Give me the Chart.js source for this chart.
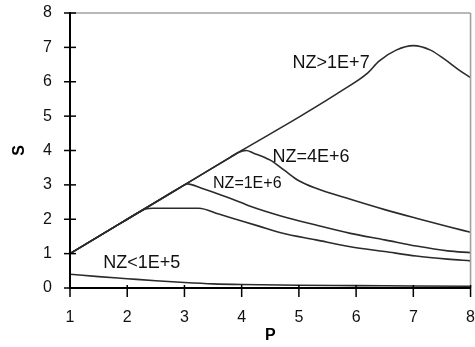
<!DOCTYPE html>
<html>
<head>
<meta charset="utf-8">
<script src="https://cdn.jsdelivr.net/npm/chart.js@4/dist/chart.umd.min.js"></script>
<style>
  html, body { margin: 0; padding: 0; background: #fff; }
</style>
</head>
<body>
<canvas id="chart" width="475" height="347"></canvas>
<script>
// axis ticks
const xTicks = [1, 2, 3, 4, 5, 6, 7, 8];
const yTicks = [0, 1, 2, 3, 4, 5, 6, 7, 8];

// NZ>1E+7
const p1e7 = [1, 2, 3, 4, 5, 5.75, 6.2, 6.4, 6.7, 7, 7.3, 7.55, 7.8, 8];
const s1e7 = [1, 2, 3, 4, 4.97, 5.74, 6.25, 6.6, 6.92, 7.05, 6.92, 6.65, 6.34, 6.12];
// NZ=4E+6
const p4e6 = [1, 2, 3, 3.8, 3.95, 4.08, 4.2, 4.5, 4.75, 5.0, 5.3, 5.9, 6.5, 7.05, 7.6, 8];
const s4e6 = [1, 2, 3, 3.8, 3.95, 4.0, 3.93, 3.72, 3.42, 3.12, 2.9, 2.58, 2.28, 2.03, 1.79, 1.62];
// NZ=1E+6
const p1e6 = [1, 2, 2.85, 2.95, 3.05, 3.3, 3.65, 4, 4.15, 4.7, 5.3, 5.9, 6.5, 7.05, 7.6, 8];
const s1e6 = [1, 2, 2.85, 2.95, 3.03, 2.9, 2.7, 2.48, 2.38, 2.09, 1.83, 1.59, 1.4, 1.22, 1.08, 1.03];
// unlabelled curve with plateau
const pMid = [1, 2, 2.2, 2.32, 2.45, 3.25, 3.6, 4, 4.3, 4.7, 5.3, 5.9, 6.5, 7.05, 7.6, 8];
const sMid = [1, 2, 2.2, 2.3, 2.32, 2.32, 2.15, 1.95, 1.8, 1.6, 1.4, 1.2, 1.06, 0.93, 0.84, 0.79];
// NZ<1E+5
const p1e5 = [1, 1.5, 2, 2.5, 3, 3.5, 4, 5, 6, 7, 8];
const s1e5 = [0.4, 0.33, 0.27, 0.21, 0.16, 0.12, 0.1, 0.08, 0.07, 0.06, 0.05];

// text labels placed on the curves (data units, left / middle)
const labelText = ['NZ>1E+7', 'NZ=4E+6', 'NZ=1E+6', 'NZ<1E+5'];
const labelP = [4.89, 4.54, 3.5, 1.58];
const labelS = [6.55, 3.8, 3.03, 0.74];
const labelSize = [18, 18, 16, 18];

const FONT = '"Liberation Sans", Arial, sans-serif';

function pts(px, py) { return px.map((x, i) => ({ x, y: py[i] })); }

function curve(px, py) {
  return {
    data: pts(px, py),
    borderColor: '#2b2b2b',
    borderWidth: 1.6,
    pointRadius: 0,
    cubicInterpolationMode: 'monotone',
    fill: false
  };
}

const framePlugin = {
  id: 'frame',
  afterDatasetsDraw(chart) {
    const { ctx, chartArea: a, scales: { x, y } } = chart;
    const line = (x1, y1, x2, y2) => { ctx.beginPath(); ctx.moveTo(x1, y1); ctx.lineTo(x2, y2); ctx.stroke(); };
    ctx.save();
    ctx.lineCap = 'butt';
    // top and right border
    ctx.strokeStyle = '#a0a0a0';
    ctx.lineWidth = 1.6;
    line(a.left, a.top, a.right, a.top);
    line(a.right, a.top, a.right, a.bottom);
    // axes
    ctx.strokeStyle = '#000';
    ctx.lineWidth = 2;
    line(a.left, a.top - 1, a.left, a.bottom + 1);
    line(a.left, a.bottom, a.right, a.bottom);
    ctx.lineWidth = 1.5;
    yTicks.forEach(v => { const py = y.getPixelForValue(v); line(a.left - 6, py, a.left + 6, py); });
    xTicks.forEach(v => { const px = x.getPixelForValue(v); line(px, a.bottom - 3, px, a.bottom + 9); });
    // curve labels
    ctx.fillStyle = '#111';
    ctx.textAlign = 'left';
    ctx.textBaseline = 'middle';
    labelText.forEach((t, i) => {
      ctx.font = labelSize[i] + 'px ' + FONT;
      ctx.fillText(t, x.getPixelForValue(labelP[i]), y.getPixelForValue(labelS[i]));
    });
    ctx.restore();
  }
};

new Chart(document.getElementById('chart'), {
  type: 'line',
  data: {
    datasets: [
      curve(p1e7, s1e7),
      curve(p4e6, s4e6),
      curve(p1e6, s1e6),
      curve(pMid, sMid),
      curve(p1e5, s1e5)
    ]
  },
  options: {
    responsive: false,
    animation: false,
    devicePixelRatio: 1,
    layout: { padding: { top: 13, right: 4, left: 0, bottom: 0 } },
    plugins: { legend: { display: false }, tooltip: { enabled: false } },
    scales: {
      x: {
        type: 'linear',
        min: 1, max: 8,
        afterFit: s => { s.height = 59; },
        afterBuildTicks: s => { s.ticks = xTicks.map(v => ({ value: v })); },
        grid: { display: false, drawTicks: true, tickLength: 20 },
        border: { display: false },
        ticks: { color: '#111', font: { family: FONT, size: 16 }, padding: 0, maxRotation: 0 },
        title: { display: true, text: 'P', color: '#000', font: { family: FONT, size: 16, weight: 'bold' }, padding: { top: 0, bottom: 2 } }
      },
      y: {
        min: 0, max: 8,
        afterFit: s => { s.width = 70; },
        afterBuildTicks: s => { s.ticks = yTicks.map(v => ({ value: v })); },
        grid: { display: false, drawTicks: true, tickLength: 18 },
        border: { display: false },
        ticks: { color: '#111', font: { family: FONT, size: 16 }, padding: 0 },
        title: { display: true, text: 'S', color: '#000', font: { family: FONT, size: 16, weight: 'bold' }, padding: { top: 10, bottom: 0 } }
      }
    }
  },
  plugins: [framePlugin]
});
</script>
</body>
</html>
